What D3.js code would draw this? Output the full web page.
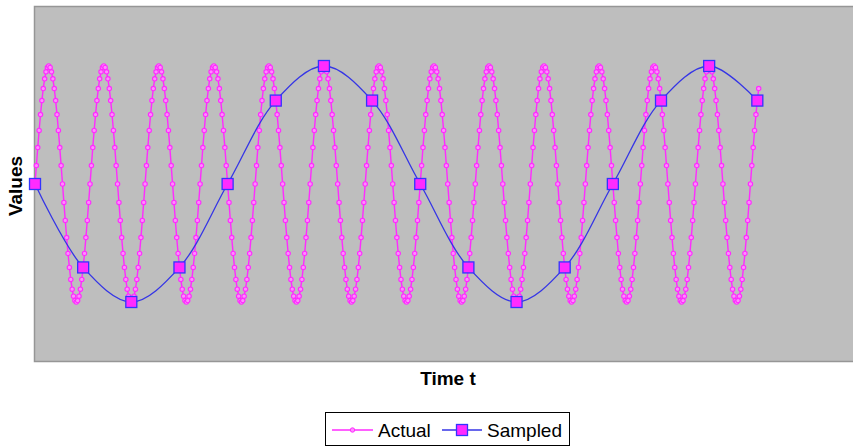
<!DOCTYPE html>
<html>
<head>
<meta charset="utf-8">
<script src="https://cdn.jsdelivr.net/npm/d3@7"></script>
<style>
    body { margin: 0; background: #fff; }
    svg text { font-family: "Liberation Sans", Arial, sans-serif; }
</style>
</head>
<body>
<div id="chart"></div>
<script>
// actual signal, one value per time step (40 steps per cycle)
var actualValues = [
    0,.156,.309,.454,.588,.707,.809,.891,.951,.988,1,.988,.951,.891,.809,.707,.588,.454,.309,.156,0,-.156,-.309,-.454,-.588,-.707,-.809,-.891,-.951,-.988,-1,-.988,-.951,-.891,-.809,-.707,-.588,-.454,-.309,-.156,
    0,.156,.309,.454,.588,.707,.809,.891,.951,.988,1,.988,.951,.891,.809,.707,.588,.454,.309,.156,0,-.156,-.309,-.454,-.588,-.707,-.809,-.891,-.951,-.988,-1,-.988,-.951,-.891,-.809,-.707,-.588,-.454,-.309,-.156,
    0,.156,.309,.454,.588,.707,.809,.891,.951,.988,1,.988,.951,.891,.809,.707,.588,.454,.309,.156,0,-.156,-.309,-.454,-.588,-.707,-.809,-.891,-.951,-.988,-1,-.988,-.951,-.891,-.809,-.707,-.588,-.454,-.309,-.156,
    0,.156,.309,.454,.588,.707,.809,.891,.951,.988,1,.988,.951,.891,.809,.707,.588,.454,.309,.156,0,-.156,-.309,-.454,-.588,-.707,-.809,-.891,-.951,-.988,-1,-.988,-.951,-.891,-.809,-.707,-.588,-.454,-.309,-.156,
    0,.156,.309,.454,.588,.707,.809,.891,.951,.988,1,.988,.951,.891,.809,.707,.588,.454,.309,.156,0,-.156,-.309,-.454,-.588,-.707,-.809,-.891,-.951,-.988,-1,-.988,-.951,-.891,-.809,-.707,-.588,-.454,-.309,-.156,
    0,.156,.309,.454,.588,.707,.809,.891,.951,.988,1,.988,.951,.891,.809,.707,.588,.454,.309,.156,0,-.156,-.309,-.454,-.588,-.707,-.809,-.891,-.951,-.988,-1,-.988,-.951,-.891,-.809,-.707,-.588,-.454,-.309,-.156,
    0,.156,.309,.454,.588,.707,.809,.891,.951,.988,1,.988,.951,.891,.809,.707,.588,.454,.309,.156,0,-.156,-.309,-.454,-.588,-.707,-.809,-.891,-.951,-.988,-1,-.988,-.951,-.891,-.809,-.707,-.588,-.454,-.309,-.156,
    0,.156,.309,.454,.588,.707,.809,.891,.951,.988,1,.988,.951,.891,.809,.707,.588,.454,.309,.156,0,-.156,-.309,-.454,-.588,-.707,-.809,-.891,-.951,-.988,-1,-.988,-.951,-.891,-.809,-.707,-.588,-.454,-.309,-.156,
    0,.156,.309,.454,.588,.707,.809,.891,.951,.988,1,.988,.951,.891,.809,.707,.588,.454,.309,.156,0,-.156,-.309,-.454,-.588,-.707,-.809,-.891,-.951,-.988,-1,-.988,-.951,-.891,-.809,-.707,-.588,-.454,-.309,-.156,
    0,.156,.309,.454,.588,.707,.809,.891,.951,.988,1,.988,.951,.891,.809,.707,.588,.454,.309,.156,0,-.156,-.309,-.454,-.588,-.707,-.809,-.891,-.951,-.988,-1,-.988,-.951,-.891,-.809,-.707,-.588,-.454,-.309,-.156,
    0,.156,.309,.454,.588,.707,.809,.891,.951,.988,1,.988,.951,.891,.809,.707,.588,.454,.309,.156,0,-.156,-.309,-.454,-.588,-.707,-.809,-.891,-.951,-.988,-1,-.988,-.951,-.891,-.809,-.707,-.588,-.454,-.309,-.156,
    0,.156,.309,.454,.588,.707,.809,.891,.951,.988,1,.988,.951,.891,.809,.707,.588,.454,.309,.156,0,-.156,-.309,-.454,-.588,-.707,-.809,-.891,-.951,-.988,-1,-.988,-.951,-.891,-.809,-.707,-.588,-.454,-.309,-.156,
    0,.156,.309,.454,.588,.707,.809,.891,.951,.988,1,.988,.951,.891,.809,.707,.588,.454,.309,.156,0,-.156,-.309,-.454,-.588,-.707,-.809,-.891,-.951,-.988,-1,-.988,-.951,-.891,-.809,-.707,-.588,-.454,-.309,-.156,
    0,.156,.309,.454,.588,.707,.809
];
// sampled signal: every 35th step
var sampleSteps = [0, 35, 70, 105, 140, 175, 210, 245, 280, 315, 350, 385, 420, 455, 490, 525];
var sampleValues = [0, -.707, -1, -.707, 0, .707, 1, .707, 0, -.707, -1, -.707, 0, .707, 1, .707];
var seriesNames = ['Actual', 'Sampled'];
var xTitle = 'Time t';
var yTitle = 'Values';

var width = 853, height = 446;
var plot = {left: 35, top: 7, right: 855, bottom: 361};
var pink = '#ff2bff', pinkFill = '#ff8cff', blue = '#3535e6';

var svg = d3.select('#chart')
    .append('svg')
    .attr('width', width)
    .attr('height', height);

var x = d3.scaleLinear()
    .domain([0, 596])
    .range([plot.left, plot.right]);

var y = d3.scaleLinear()
    .domain([-1.5, 1.5])
    .range([plot.bottom, plot.top]);

svg.append('rect')
    .attr('x', plot.left - 0.5)
    .attr('y', plot.top - 0.5)
    .attr('width', plot.right - plot.left + 1)
    .attr('height', plot.bottom - plot.top + 1)
    .attr('fill', '#bebebe')
    .attr('stroke', '#969696')
    .attr('stroke-width', 1.5);

var actual = actualValues.map((v, i) => ({t: i, v: v}));
var sampled = sampleSteps.map((s, i) => ({t: s, v: sampleValues[i]}));

var line = d3.line()
    .x(d => x(d.t))
    .y(d => y(d.v));

svg.append('path')
    .attr('d', line(actual))
    .attr('fill', 'none')
    .attr('stroke', pink)
    .attr('stroke-width', 1.4);

svg.selectAll('circle.actual')
    .data(actual)
    .enter()
    .append('circle')
    .attr('class', 'actual')
    .attr('cx', d => x(d.t))
    .attr('cy', d => y(d.v))
    .attr('r', 2.2)
    .attr('fill', pinkFill)
    .attr('stroke', pink)
    .attr('stroke-width', 1.1);

svg.append('path')
    .attr('d', line.curve(d3.curveCatmullRom)(sampled))
    .attr('fill', 'none')
    .attr('stroke', blue)
    .attr('stroke-width', 1.3);

svg.selectAll('rect.sample')
    .data(sampled)
    .enter()
    .append('rect')
    .attr('class', 'sample')
    .attr('x', d => x(d.t) - 5.5)
    .attr('y', d => y(d.v) - 5.5)
    .attr('width', 11)
    .attr('height', 11)
    .attr('fill', pink)
    .attr('stroke', '#3333ff')
    .attr('stroke-width', 1.3);

// axis titles
svg.append('text')
    .attr('x', 448)
    .attr('y', 385)
    .attr('text-anchor', 'middle')
    .attr('font-size', 19)
    .attr('font-weight', 'bold')
    .text(xTitle);

svg.append('text')
    .attr('transform', 'translate(22,186) rotate(-90)')
    .attr('text-anchor', 'middle')
    .attr('font-size', 19)
    .attr('font-weight', 'bold')
    .text(yTitle);

// legend
var legend = svg.append('g');
legend.append('rect')
    .attr('x', 325.5)
    .attr('y', 412.5)
    .attr('width', 244)
    .attr('height', 33)
    .attr('fill', '#fff')
    .attr('stroke', '#000')
    .attr('stroke-width', 1);

legend.append('line')
    .attr('x1', 332).attr('x2', 373).attr('y1', 430).attr('y2', 430)
    .attr('stroke', pink).attr('stroke-width', 1.3);
legend.append('circle')
    .attr('cx', 352.5).attr('cy', 430).attr('r', 2.2)
    .attr('fill', pinkFill).attr('stroke', pink);
legend.append('text')
    .attr('x', 378).attr('y', 436.5)
    .attr('font-size', 19)
    .text(seriesNames[0]);

legend.append('line')
    .attr('x1', 442).attr('x2', 482).attr('y1', 430).attr('y2', 430)
    .attr('stroke', blue).attr('stroke-width', 1.3);
legend.append('rect')
    .attr('x', 456.5).attr('y', 424.5).attr('width', 11).attr('height', 11)
    .attr('fill', pink).attr('stroke', '#3333ff').attr('stroke-width', 1.3);
legend.append('text')
    .attr('x', 487).attr('y', 436.5)
    .attr('font-size', 19)
    .text(seriesNames[1]);
</script>
</body>
</html>
